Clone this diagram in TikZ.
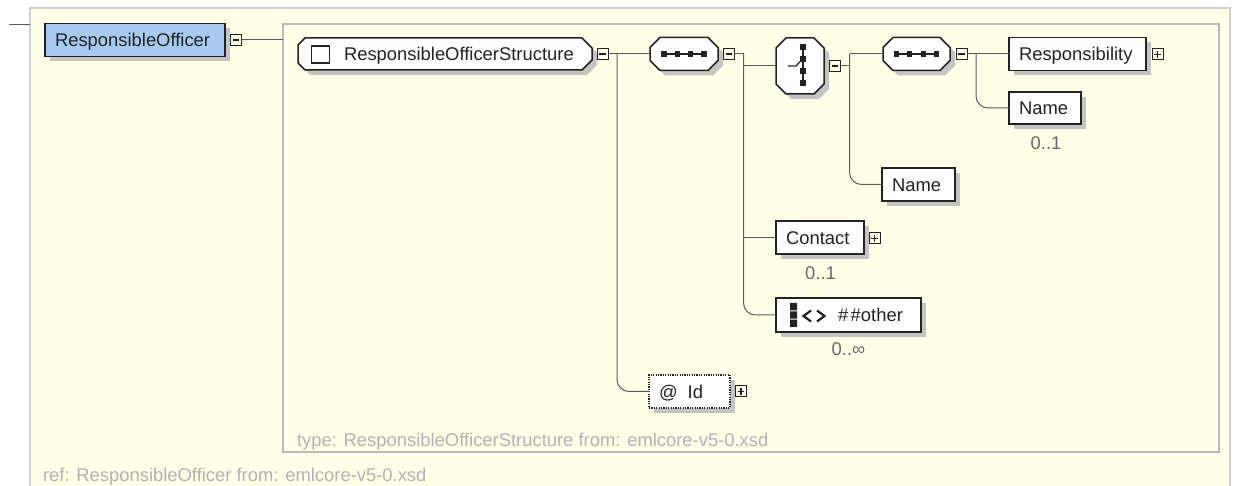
\documentclass[tikz,border=0pt]{standalone}
\usepackage{fontspec}
\setmainfont{Liberation Sans}
\usetikzlibrary{shadows}

\definecolor{bgyellow}{RGB}{255,255,232}
\definecolor{elemblue}{RGB}{166,202,240}
\definecolor{outerframe}{RGB}{208,208,208}
\definecolor{innerframe}{RGB}{184,184,184}
\definecolor{shadowgray}{RGB}{196,196,196}
\definecolor{wirecol}{RGB}{90,90,90}
\definecolor{ink}{RGB}{34,34,34}
\definecolor{notegray}{RGB}{178,178,178}
\definecolor{occgray}{RGB}{104,104,104}

% chamfered outline around a placeholder node: name, left chamfer, right chamfer
\newcommand\octobox[3]{%
  \path[octo] ([xshift=#2]#1.north west) -- ([xshift=-#3]#1.north east)
    -- ([yshift=-#3]#1.north east) -- ([yshift=#3]#1.south east)
    -- ([xshift=-#3]#1.south east) -- ([xshift=#2]#1.south west)
    -- ([yshift=#2]#1.south west) -- ([yshift=-#2]#1.north west) -- cycle;}

% sequence compositor glyph: four linked squares
\newcommand\seqglyph[1]{%
  \draw[ink, line width=1.3pt] ([xshift=-20pt]#1.center) -- ([xshift=20pt]#1.center);
  \foreach \d in {-20,-6.7,6.7,20}
    \fill[ink] ([shift={(\d,0)}]#1.center) ++(-2.6,-2.6) rectangle ++(5.2,5.2);}

\begin{document}
\begin{tikzpicture}[x=1pt,y=-1pt,
  every node/.style={font=\fontsize{18.4pt}{22pt}\selectfont, inner sep=0pt, outer sep=0pt},
  shade/.style={drop shadow={shadow xshift=5pt, shadow yshift=-5pt, fill=shadowgray, opacity=1}},
  wire/.style={draw=wirecol, line width=1pt},
  elem/.style={draw=ink, line width=1.5pt, fill=white, minimum height=33pt, shade},
  holder/.style={minimum height=33pt},
  octo/.style={draw=ink, line width=1.5pt, fill=white, line join=miter, shade},
  tog/.style={draw=ink, line width=1pt, fill=bgyellow, minimum size=11pt},
  minus/.style={tog, path picture={\draw[ink, line width=1.2pt]
      ([xshift=-3.4pt]path picture bounding box.center) -- ([xshift=3.4pt]path picture bounding box.center);}},
  plus/.style={tog, path picture={\draw[ink, line width=1.2pt]
      ([xshift=-3.4pt]path picture bounding box.center) -- ([xshift=3.4pt]path picture bounding box.center)
      ([yshift=-3.4pt]path picture bounding box.center) -- ([yshift=3.4pt]path picture bounding box.center);}},
  lbl/.style={anchor=west, text height=13.2pt, text depth=0pt, text=ink},
  note/.style={lbl, text=notegray},
  occ/.style={anchor=center, text height=13.2pt, text depth=0pt, text=occgray},
]
\useasboundingbox (0,0) rectangle (1235,486);
\fill[white] (0,0) rectangle (1235,486);

% frames
\node[draw=outerframe, fill=bgyellow, line width=1.5pt, minimum width=1200pt, minimum height=520pt] (outer) at (630,268) {};
\node[draw=innerframe, line width=1.5pt, minimum width=936pt, minimum height=428pt] (typeframe) at (751,238) {};
\coordinate (feed) at (9,25);
\draw[wire] (feed) -- (feed -| outer.west);

% root element
\node[elem, fill=elemblue, minimum width=180pt] (ro) at (135,40) {};
\node[lbl] (ro-t) at ([xshift=10pt]ro.west) {ResponsibleOfficer};
\node[minus] (m0) at (236,40) {};
\draw[wire] (m0.east) -- (m0.east -| typeframe.west);

% complex type
\node[holder, minimum width=294pt, minimum height=32pt] (st) at (445,54) {};
\octobox{st}{7pt}{10pt}
\node[draw=ink, line width=1.3pt, fill=white, minimum width=18pt, minimum height=17pt] (st-box) at (320.5,54.5) {};
\node[lbl] (st-t) at (344,54) {ResponsibleOfficerStructure};
\node[minus] (m1) at (602.5,54) {};

% outer sequence
\node[holder, minimum width=68pt] (seq1) at (684,54) {};
\octobox{seq1}{10pt}{10pt}
\seqglyph{seq1}
\node[minus] (m2) at (729,54) {};

% choice
\node[holder, minimum width=48pt, minimum height=56pt] (choice) at (800,66) {};
\octobox{choice}{10pt}{10pt}
\draw[ink, line width=1.3pt] ([shift={(3,-19)}]choice.center) -- ([shift={(3,17)}]choice.center);
\foreach \d in {-19,-7,5,17}
  \fill[ink] ([shift={(3,\d)}]choice.center) ++(-2.6,-2.6) rectangle ++(5.2,5.2);
\draw[ink, line width=1.3pt] ([shift={(-12,0)}]choice.center) -- ([shift={(-4,0)}]choice.center) -- ([shift={(2,-6.5)}]choice.center);
\node[minus] (m3) at (835,66) {};

% inner sequence
\node[holder, minimum width=67pt] (seq2) at (916.5,54) {};
\octobox{seq2}{10pt}{10pt}
\seqglyph{seq2}
\node[minus] (m4) at (961.5,54) {};

% leaf elements
\node[elem, minimum width=137pt] (resp) at (1077.5,54) {};
\node[lbl] (resp-t) at ([xshift=10pt]resp.west) {Responsibility};
\node[plus] (p1) at (1157.5,54.5) {};

\node[elem, minimum width=72pt, minimum height=32pt] (name1) at (1045,108) {};
\node[lbl] (name1-t) at ([xshift=10pt]name1.west) {Name};
\node[occ] (name1-o) at (1046,142.5) {0..1};

\node[elem, minimum width=73pt] (name2) at (918.5,184.5) {};
\node[lbl] (name2-t) at ([xshift=10pt]name2.west) {Name};

\node[elem, minimum width=88pt] (contact) at (820,237.5) {};
\node[lbl] (contact-t) at ([xshift=10pt]contact.west) {Contact};
\node[plus] (p2) at (874.5,238.5) {};
\node[occ] (contact-o) at (820.5,273) {0..1};

\node[elem, minimum width=145pt, minimum height=34pt] (other) at (848.5,315) {};
\fill[ink] (790,303) rectangle (797,310.4) (790,311.4) rectangle (797,318.6) (790,319.6) rectangle (797,327);
\draw[ink, line width=2.2pt, line join=miter] (811,310.5) -- (803.5,316) -- (811,321.5);
\draw[ink, line width=2.2pt, line join=miter] (817,310.5) -- (824.5,316) -- (817,321.5);
\node[lbl] (other-t) at (838,315) {\#\kern2.5pt\#other};
\node[occ] (other-o) at (848.5,349) {0..∞};

% attribute
\node[elem, line width=1.2pt, dash pattern=on 1.2pt off 1.2pt, minimum width=81pt] (id) at (689.5,391.5) {};
\node[lbl] (id-t) at ([xshift=10pt]id.west) {@\hspace{10pt}Id};
\node[plus] (p3) at (741,391.5) {};

% connectors
\coordinate (j1) at ([xshift=9pt]m1.east);
\coordinate (j2) at ([xshift=9pt]m2.east);
\coordinate (j3) at ([xshift=9pt]m3.east);
\coordinate (j4) at ([xshift=9pt]m4.east);
\draw[wire] (m1.east) -- (seq1.west);
\draw[wire, rounded corners=12pt] (j1) |- (id.west);
\draw[wire] (m2.east) -- (j2) |- (choice.west);
\draw[wire, rounded corners=12pt] (j2) |- (other.west);
\draw[wire] (j2 |- contact.west) -- (contact.west);
\draw[wire] (m3.east) -- (j3);
\draw[wire] (j3 |- seq2.west) -- (seq2.west);
\draw[wire, rounded corners=12pt] (j3 |- seq2.west) |- (name2.west);
\draw[wire] (m4.east) -- (resp.west);
\draw[wire, rounded corners=12pt] (j4) |- (name1.west);

% provenance notes
\node[note] (type-note) at (297,440) {type: ResponsibleOfficerStructure from: emlcore-v5-0.xsd};
\node[note] (ref-note) at (43,475) {ref: ResponsibleOfficer from: emlcore-v5-0.xsd};
\end{tikzpicture}
\end{document}
